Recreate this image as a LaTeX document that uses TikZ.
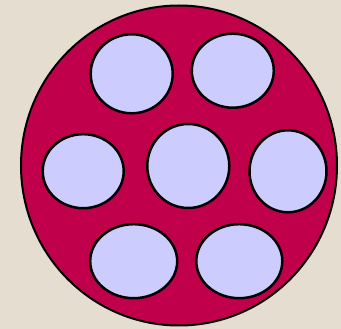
\documentclass[tikz,border=0pt]{standalone}
\usepackage{xcolor}
\usepackage{tikz}
\usetikzlibrary{shapes.geometric}
\definecolor{bg}{RGB}{228,221,208}
\definecolor{cell}{RGB}{192,0,74}
\definecolor{hole}{RGB}{204,204,255}

\begin{document}
\begin{tikzpicture}[
  x=1pt,y=-1pt,
  outer/.style={draw,ellipse,fill=cell,line width=2pt,inner sep=0pt,
    minimum width=316pt,minimum height=320pt},
  pore/.style={draw,ellipse,fill=hole,line width=2.5pt,inner sep=0pt}
]
\fill[bg] (0,0) rectangle (341,329);
\useasboundingbox (0,0) rectangle (341,329);
\node[outer] (disk) at (179,165.5) {};
% upper row
\node[pore,minimum width=82pt,minimum height=79pt] (tl) at (131.7,73.8) {};
\node[pore,minimum width=82pt,minimum height=74pt] (tr) at (232.8,70.7) {};
% middle row
\node[pore,minimum width=81pt,minimum height=74pt] (ml) at (83.2,171.2) {};
\node[pore,minimum width=82pt,minimum height=84pt] (mc) at (188.3,166) {};
\node[pore,minimum width=77pt,minimum height=82pt] (mr) at (288,171.3) {};
% lower row
\node[pore,minimum width=87pt,minimum height=74pt] (bl) at (133.7,261.2) {};
\node[pore,minimum width=86pt,minimum height=74pt] (br) at (239.3,261.2) {};
\end{tikzpicture}
\end{document}
